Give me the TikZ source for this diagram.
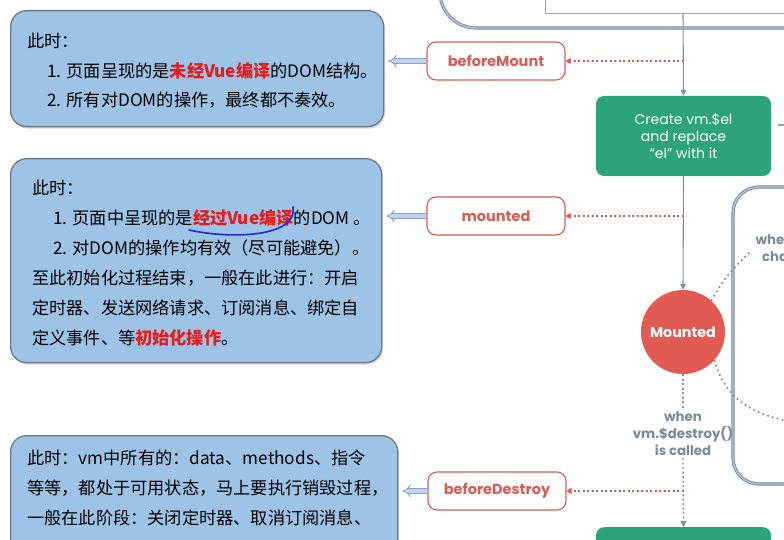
\documentclass[tikz,border=0pt]{standalone}
\usepackage{fontspec}
\newfontfamily\cjk{Noto Sans CJK SC}
\newfontfamily\vuefont{Poppins}
\usetikzlibrary{arrows.meta,shadows,calc}
\definecolor{notefill}{RGB}{157,195,230}
\definecolor{noteedge}{RGB}{112,122,134}
\definecolor{hookred}{RGB}{216,92,84}
\definecolor{vuegreen}{RGB}{45,163,122}
\definecolor{mountred}{RGB}{226,91,82}
\definecolor{flowgray}{RGB}{128,146,165}
\definecolor{labelgray}{RGB}{125,138,150}
\definecolor{framegray}{RGB}{125,132,142}
\definecolor{framefill}{RGB}{175,203,235}
\definecolor{pointeredge}{RGB}{135,162,200}
\definecolor{pointerfill}{RGB}{190,212,240}
\definecolor{markblue}{RGB}{30,40,220}
\definecolor{keyred}{RGB}{228,28,28}
\newcommand{\keytext}[1]{\textcolor{keyred}{\bfseries #1}}

\begin{document}
\begin{tikzpicture}[
    x=1pt,
    y=-1pt,
    notebox/.style={draw=noteedge, line width=1.3pt, fill=notefill, rounded corners=16pt,
      drop shadow={opacity=0.3, shadow xshift=1.5pt, shadow yshift=-2pt},
      anchor=north west, inner sep=0pt},
    notetext/.style={anchor=base west, inner sep=0pt, font=\cjk\fontsize{17.2}{20}\selectfont},
    hookbox/.style={draw=hookred, line width=1.1pt, fill=white, rounded corners=9pt,
      minimum width=138pt, minimum height=38pt, text=hookred,
      font=\vuefont\bfseries\fontsize{14.5}{16}\selectfont},
    createbox/.style={fill=vuegreen, rounded corners=8pt, minimum width=175pt,
      minimum height=80pt, text=white, align=center,
      font=\vuefont\fontsize{14}{17}\selectfont},
    mountcircle/.style={circle, fill=mountred, minimum size=84pt, text=white,
      font=\vuefont\bfseries\fontsize{14.3}{16}\selectfont},
    whentext/.style={text=labelgray, align=center, inner sep=2pt,
      font=\vuefont\bfseries\fontsize{13.3}{17}\selectfont},
    bigframe/.style={draw=framegray, line width=3.2pt,
      postaction={draw=framefill, line width=1.4pt}},
    innerbox/.style={draw=flowgray!80, line width=1pt},
    flow/.style={draw=flowgray, line width=1.1pt, -{Triangle[length=6pt, width=6pt]}},
    flowdots/.style={draw=flowgray, line width=1.3pt, dash pattern=on 2pt off 2.5pt},
    loopdots/.style={draw=flowgray!90!black, line width=1.6pt, dash pattern=on 1.6pt off 3.4pt},
    hookline/.style={draw=hookred, line width=1.1pt, dash pattern=on 2pt off 2.5pt,
      -{Triangle[length=5pt, width=6pt]}},
    pointer/.style={draw=pointeredge, double=pointerfill, double distance=3.4pt,
      line width=1pt, -{Implies}}
  ]
    \useasboundingbox (0,0) rectangle (784,540);
    \clip (0,0) rectangle (784,540);

    % frames cut off at the border
    \draw[bigframe, rounded corners=36pt] (440,-40) -- (440,28) -- (800,28);
    \draw[innerbox] (545,-10) rectangle (800,14);
    \draw[bigframe, rounded corners=26pt] (800,187) -- (733,187) -- (733,484) -- (800,484);
    \coordinate (topin) at (683,14);
    \coordinate (rightout) at (800,125);

    % lifecycle flow
    \node[createbox] (create) at (683.5,136) {Create vm.\$el\\and replace\\“el” with it};
    \node[mountcircle] (mounted) at (683,332) {Mounted};
    \node[whentext] (destroy) at (683,434) {when\\vm.\$destroy()\\is called};
    \node[createbox, anchor=north, minimum height=60pt] (destroyed) at (683.5,527) {};
    \node[whentext, anchor=north] (change) at (792,232) {when data\\changes};

    \draw[flow] (topin) -- (create.north);
    \draw[flow] (create.south) -- (mounted.north);
    \draw[flowdots] (mounted.south) -- (destroy.north);
    \draw[flowdots, -{Triangle[length=6pt, width=6pt]}] (destroy.south) -- (destroyed.north);
    \draw[draw=pointeredge, line width=2.4pt] (create.east) ++(7,-11) -- (rightout);
    \draw[loopdots] (mounted.48) .. controls (726,276) .. (750,252);
    \draw[loopdots] (mounted.-42) .. controls (724,394) and (745,413) .. (792,422);

    % hook labels
    \node[hookbox] (bmount) at (496,61) {beforeMount};
    \node[hookbox] (mnted) at (496,216) {mounted};
    \node[hookbox] (bdestroy) at (497,491) {beforeDestroy};
    \coordinate (bmtap) at (bmount.east -| create.north);
    \coordinate (mttap) at (mnted.east -| create.north);
    \coordinate (bdtap) at (bdestroy.east -| create.north);
    \draw[hookline] (bmtap) -- (bmount.east);
    \draw[hookline] (mttap) -- (mnted.east);
    \draw[hookline] (bdtap) -- (bdestroy.east);

    % notes
    \node[notebox, minimum width=373pt, minimum height=116pt] (note1) at (10,10) {};
    \node[notebox, minimum width=371pt, minimum height=204pt] (note2) at (10,158) {};
    \node[notebox, minimum width=387pt, minimum height=140pt] (note3) at (10,435) {};

    \draw[pointer] (bmount.west) -- ($(bmount.west -| note1.east)+(4,0)$);
    \draw[pointer] (mnted.west) -- ($(mnted.west -| note2.east)+(4,0)$);
    \draw[pointer] (bdestroy.west) -- ($(bdestroy.west -| note3.east)+(4,0)$);

    \node[notetext] at (27,48) {此时：};
    \node[notetext] at (47,78) {1. 页面呈现的是\keytext{未经Vue编译}的DOM结构。};
    \node[notetext] at (47,107) {2. 所有对DOM的操作，最终都不奏效。};

    \node[notetext] at (32,194) {此时：};
    \node[notetext] at (53,224) {1. 页面中呈现的是\keytext{经过Vue编译}的DOM 。};
    \node[notetext] at (53,254) {2. 对DOM的操作均有效（尽可能避免）。};
    \node[notetext] at (32,284) {至此初始化过程结束，一般在此进行：开启};
    \node[notetext] at (32,314) {定时器、发送网络请求、订阅消息、绑定自};
    \node[notetext] at (32,344) {定义事件、等\keytext{初始化操作}。};
    \draw[markblue, line width=1.6pt, line cap=round] (189,230) .. controls (235,240) and (298,236) .. (293,207);

    \node[notetext] at (27,464) {此时：vm中所有的：data、methods、指令};
    \node[notetext] at (27,494) {等等，都处于可用状态，马上要执行销毁过程，};
    \node[notetext] at (27,524) {一般在此阶段：关闭定时器、取消订阅消息、};
  \end{tikzpicture}
\end{document}
